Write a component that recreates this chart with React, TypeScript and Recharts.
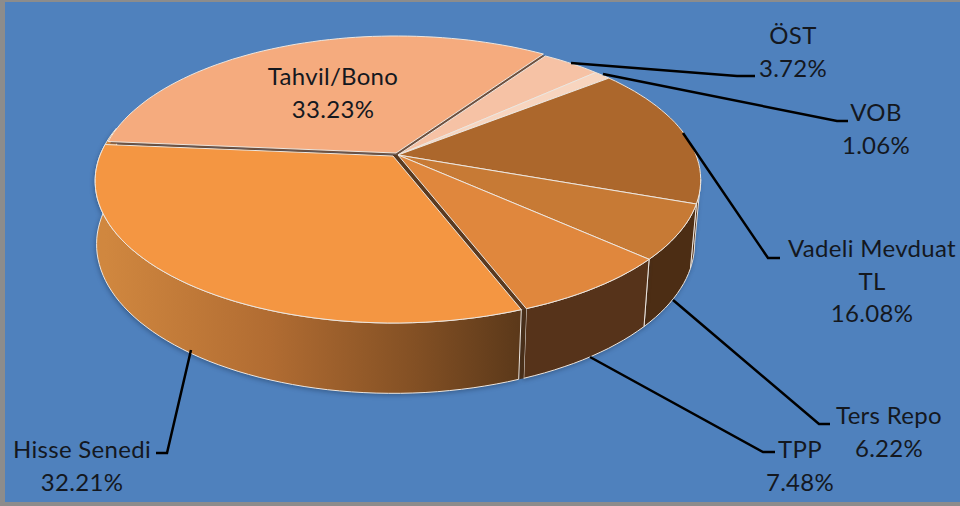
import { Pie, PieChart } from 'recharts';

const names = ['ÖST', 'VOB', 'Vadeli Mevduat TL', 'Ters Repo', 'TPP', 'Hisse Senedi', 'Tahvil/Bono'];
const shares = [3.72, 1.06, 16.08, 6.22, 7.48, 32.21, 33.23];
const topColors = ['#F6C2A5', '#F8D5BF', '#AC672C', '#C77A35', '#E0873D', '#F49642', '#F5AB7E'];
const wallColors = ['#8a5a3c', '#8a5a3c', '#5e3719', '#4C2D14', '#56331A', 'url(#hisseWall)', '#B67337'];
const underColors = ['#5A3A20', '#5A3A20', '#5A3A20', '#5A3A20', '#5A3A20', '#5A3A20', '#6E5140'];

const pieData = names.map((name, i) => ({ name, value: shares[i] }));

// how far each slice is pulled out of the pie
const offsets = [[0, 0], [0, 0], [0, 0], [0, 0], [0, 0], [-5, 1], [-2, -2]];

// the label text, its centre and the baseline of each line, then the leader
const labelLines = [
  ['ÖST', '3.72%'],
  ['VOB', '1.06%'],
  ['Vadeli Mevduat', 'TL', '16.08%'],
  ['Ters Repo', '6.22%'],
  ['TPP', '7.48%'],
  ['Hisse Senedi', '32.21%'],
  ['Tahvil/Bono', '33.23%'],
];
const labelX = [793, 876, 872, 889, 800, 82, 333];
const labelY = [44, 121, 257, 424, 458, 458, 85];
const leaders = [
  '571,63 737,76 755,76',
  '603,74 837,121 848,121',
  '683,133 768,258 780,258',
  '673,300 819,424 830,424',
  '590,357 763,452 775,452',
  '191,350 167,453 156,453',
  '',
];

// perspective of the tilted disc
const APEX_X = 398;
const APEX_Y = 155;
const RX = 298;
const LEFT_SQUEEZE = 0.984;
const K = 0.176;
const A = 137.6;
const DEPTH = 62;
const RIM_X = 0.98;
const RIM_X_LEFT = 0.995;
const RIM_Y = 1.05;
const RAD = Math.PI / 180;

function project(deg: number) {
  const u = Math.cos(deg * RAD);
  const v = Math.sin(deg * RAD);
  const d = 1 + K * v;
  return [(RX * u * (u < 0 ? LEFT_SQUEEZE : 1)) / d, (-A * v) / d];
}

function topPoint(deg: number, o: number[]) {
  const [x, y] = project(deg);
  return `${(APEX_X + x + o[0]).toFixed(1)},${(APEX_Y + y + o[1]).toFixed(1)}`;
}

function rimPoint(deg: number, o: number[]) {
  const [x, y] = project(deg);
  const sx = x < 0 ? RIM_X_LEFT : RIM_X;
  return `${(APEX_X + x * sx + o[0]).toFixed(1)},${(APEX_Y + y * RIM_Y + DEPTH + o[1]).toFixed(1)}`;
}

function arc(from: number, to: number, fn: (d: number, o: number[]) => string, o: number[]) {
  const n = Math.max(2, Math.ceil(Math.abs(to - from) / 2));
  const pts: string[] = [];
  for (let i = 0; i <= n; i++) pts.push(fn(from + ((to - from) * i) / n, o));
  return pts;
}

const OUTLINE = '#EDE6DF';

function TopSlice(props: any) {
  const o = offsets[props.index] ?? [0, 0];
  const pts = [`${APEX_X + o[0]},${APEX_Y + o[1]}`, ...arc(props.startAngle, props.endAngle, topPoint, o)];
  return <polygon points={pts.join(' ')} fill={topColors[props.index]} stroke={OUTLINE} strokeWidth={1} strokeLinejoin="round" />;
}

// the front wall is only visible between the right and left extremes of the disc
function WallSlice(props: any) {
  const i = props.index;
  const o = offsets[i] ?? [0, 0];
  const from = Math.min(props.startAngle, -10);
  // the Hisse Senedi wall carries on round the left end, Tahvil/Bono shows none
  const to = i === 5 ? -192 : Math.max(props.endAngle, -190);
  const base = [`${APEX_X},${APEX_Y}`, ...arc(props.startAngle, props.endAngle, topPoint, [0, 0])];
  const under = <polygon points={base.join(' ')} fill={underColors[i]} />;
  if (from <= to || i === 6) return under;
  const pts = [...arc(from, to, topPoint, o), ...arc(to, from, rimPoint, o)];
  const gap = [...arc(from, from - 6, topPoint, [0, 0]), ...arc(from - 6, from, rimPoint, [0, 0])];
  return (
    <g>
      {under}
      {i === 5 && <polygon points={gap.join(' ')} fill="#4A2F18" />}
      <polygon
        points={pts.join(' ')}
        fill={wallColors[i]}
        stroke={OUTLINE}
        strokeWidth={1}
        strokeLinejoin="round"
        style={{ filter: 'drop-shadow(-1px 2px 2px rgba(20,40,70,0.35))' }}
      />
    </g>
  );
}

function SliceLabel(props: any) {
  const i = props.index;
  return (
    <g>
      {leaders[i] && <polyline points={leaders[i]} fill="none" stroke="#000" strokeWidth={2.5} />}
      {labelLines[i].map((line, j) => (
        <text
          key={line}
          x={labelX[i]}
          y={labelY[i] + j * 32.5}
          textAnchor="middle"
          fontFamily="Lato, sans-serif"
          fontSize={24}
          letterSpacing={0.3}
          fill="#14181f"
        >
          {line}
        </text>
      ))}
    </g>
  );
}

export default function App() {
  return (
    <div style={{ position: 'fixed', left: 0, top: 0, width: 960, height: 506, background: '#fff' }}>
      <div style={{ position: 'absolute', inset: 0, background: '#4F81BD', borderStyle: 'solid', borderColor: '#8C8C8C', borderWidth: '2px 0 4px 5px', boxSizing: 'border-box' }} />
      <div style={{ position: 'absolute', inset: 0 }}>
        <PieChart width={960} height={506}>
          <defs>
            <linearGradient id="hisseWall" gradientUnits="userSpaceOnUse" x1={105} y1={0} x2={518} y2={0}>
              <stop offset="0" stopColor="#D0873F" />
              <stop offset="0.4" stopColor="#B16C32" />
              <stop offset="0.75" stopColor="#835024" />
              <stop offset="1" stopColor="#5C391A" />
            </linearGradient>
          </defs>
          <Pie
            data={pieData}
            dataKey="value"
            nameKey="name"
            cx={APEX_X}
            cy={APEX_Y}
            outerRadius={RX}
            startAngle={55.5}
            endAngle={-304.5}
            paddingAngle={0}
            shape={WallSlice}
            label={false}
            isAnimationActive={false}
          />
          <Pie
            data={pieData}
            dataKey="value"
            nameKey="name"
            cx={APEX_X}
            cy={APEX_Y}
            outerRadius={RX}
            startAngle={55.5}
            endAngle={-304.5}
            paddingAngle={0}
            shape={TopSlice}
            label={SliceLabel}
            labelLine={false}
            isAnimationActive={false}
          />
        </PieChart>
      </div>
    </div>
  );
}
